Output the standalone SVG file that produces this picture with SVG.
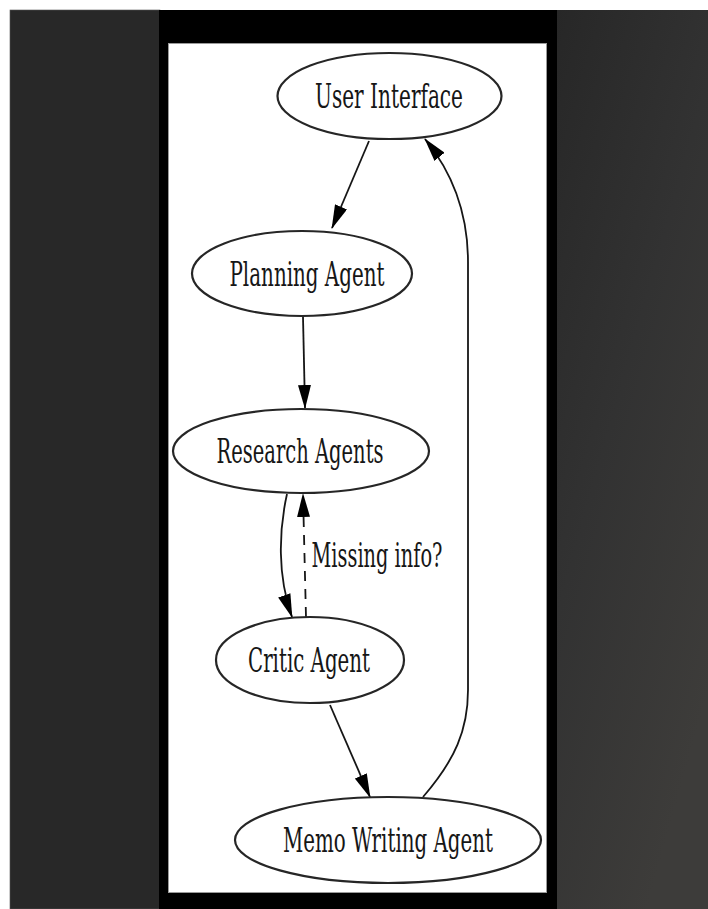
<svg xmlns="http://www.w3.org/2000/svg" width="708" height="909" viewBox="0 0 708 909">
  <defs>
    <linearGradient id="sideShade" x1="0" y1="0" x2="0.6" y2="1">
      <stop offset="0" stop-color="#272727"/>
      <stop offset="0.5" stop-color="#323232"/>
      <stop offset="1" stop-color="#3d3c3a"/>
    </linearGradient>
    <marker id="arrow" viewBox="0 0 24 13" refX="23" refY="6.5" markerWidth="24" markerHeight="13" markerUnits="userSpaceOnUse" orient="auto">
      <path d="M0,0 L24,6.5 L0,13 z" fill="#000"/>
    </marker>
    <style>
      .node ellipse { fill: #ffffff; stroke: #262626; stroke-width: 2.2; }
      .label { font-family: "DejaVu Serif", "Liberation Serif", serif; font-size: 34px; fill: #161616; text-anchor: middle; }
      .edge { fill: none; stroke: #161616; stroke-width: 1.8; marker-end: url(#arrow); }
      .dashed { stroke-dasharray: 10 8; }
    </style>
  </defs>

  <!-- surrounding backdrop -->
  <rect x="0" y="0" width="708" height="909" fill="#ffffff"/>
  <rect x="10" y="10" width="150" height="899" fill="#282828" stroke="#555" stroke-width="0.6"/>
  <rect x="556" y="10" width="152" height="899" fill="url(#sideShade)"/>
  <!-- black frame and white canvas -->
  <rect x="159" y="10" width="398" height="899" fill="#000000"/>
  <rect x="168.5" y="43.5" width="378" height="849" fill="#ffffff" stroke="#9a9a9a" stroke-width="1"/>

  <g id="connectors">
    <path class="edge" d="M369,141 L332,228"/>
    <path class="edge" d="M303,317 L305,408"/>
    <path class="edge" d="M287,494 C279,530 277,575 292,617"/>
    <path class="edge dashed" d="M306,617 L303,494"/>
    <path class="edge" d="M330,705 L370,797"/>
    <path class="edge" d="M423,797 C455,760 468,730 468,690 L468,262 C468,212 452,172 425,139"/>
    <text class="label" x="377" y="567" textLength="131" lengthAdjust="spacingAndGlyphs">Missing info?</text>
  </g>

  <g id="user-interface" class="node">
    <ellipse cx="389.5" cy="96" rx="112" ry="43"/>
    <text class="label" x="389" y="108" textLength="148" lengthAdjust="spacingAndGlyphs">User Interface</text>
  </g>
  <g id="planning-agent" class="node">
    <ellipse cx="302" cy="273.5" rx="110" ry="42.5"/>
    <text class="label" x="307" y="286" textLength="155" lengthAdjust="spacingAndGlyphs">Planning Agent</text>
  </g>
  <g id="research-agents" class="node">
    <ellipse cx="301" cy="451" rx="128" ry="42"/>
    <text class="label" x="300" y="463" textLength="167" lengthAdjust="spacingAndGlyphs">Research Agents</text>
  </g>
  <g id="critic-agent" class="node">
    <ellipse cx="310" cy="660" rx="94" ry="43"/>
    <text class="label" x="309" y="672" textLength="122" lengthAdjust="spacingAndGlyphs">Critic Agent</text>
  </g>
  <g id="memo-writing-agent" class="node">
    <ellipse cx="388" cy="840" rx="153" ry="43"/>
    <text class="label" x="388" y="852" textLength="210" lengthAdjust="spacingAndGlyphs">Memo Writing Agent</text>
  </g>
</svg>
